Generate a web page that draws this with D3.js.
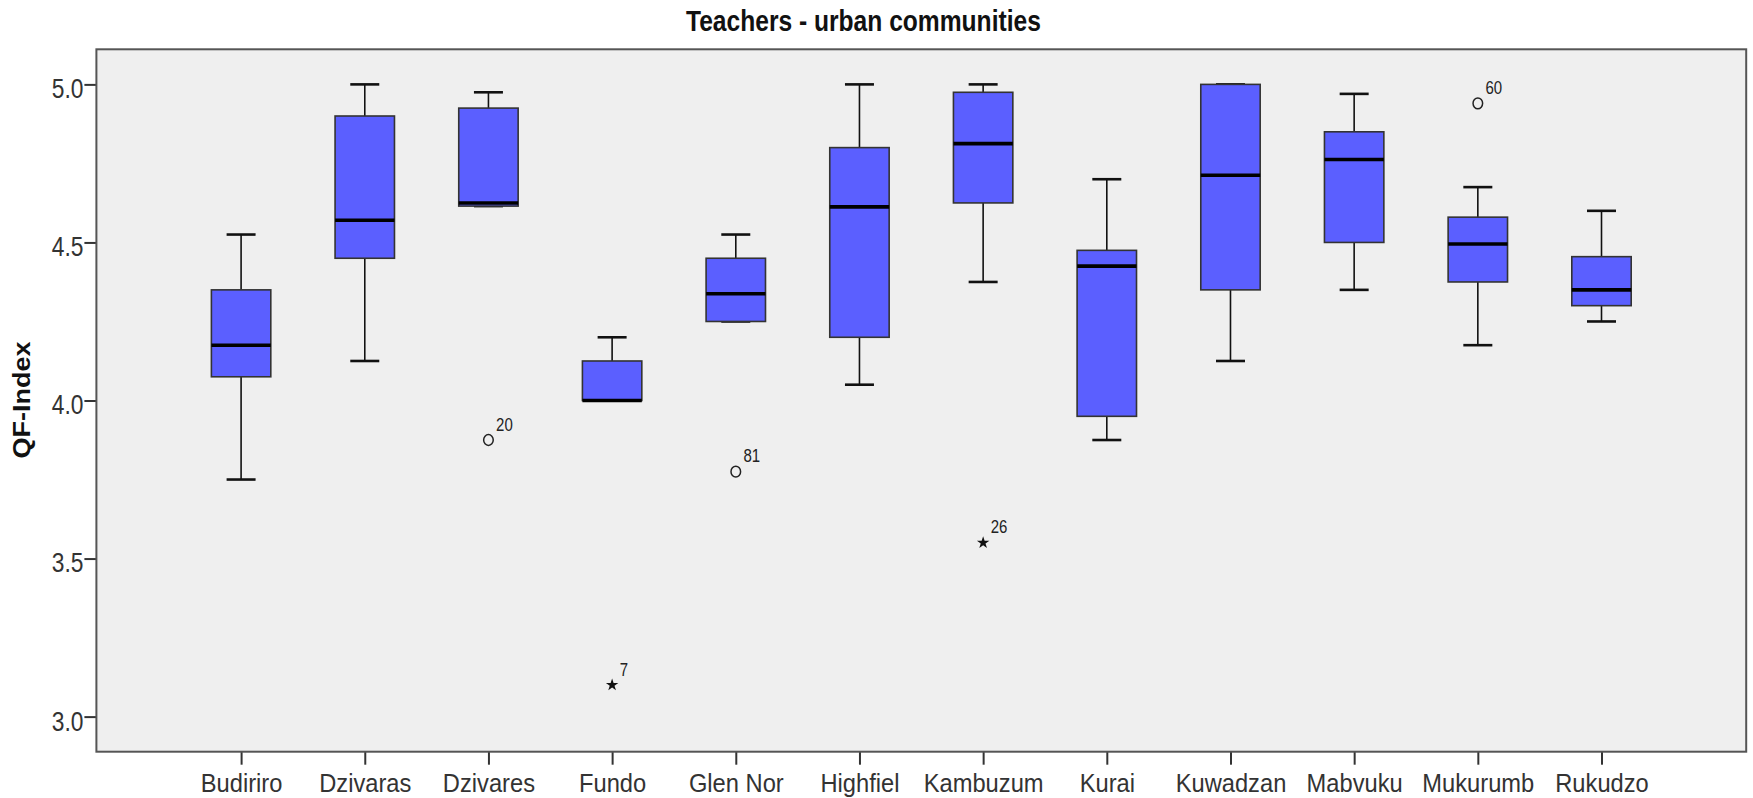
<!DOCTYPE html>
<html>
<head>
<meta charset="utf-8">
<script src="https://cdn.jsdelivr.net/npm/d3@7"></script>
<style>
  html, body { margin: 0; padding: 0; background: #fff; }
  svg { display: block; }
  text { font-family: "Liberation Sans", Arial, sans-serif; }
</style>
</head>
<body>
<svg id="chart" width="1753" height="798"></svg>
<script>
// Five-number summaries per community (QF-Index)
const categories = ["Budiriro", "Dzivaras", "Dzivares", "Fundo", "Glen Nor", "Highfiel",
                    "Kambuzum", "Kurai", "Kuwadzan", "Mabvuku", "Mukurumb", "Rukudzo"];
const lowerWhisker = [3.75, 4.125, 4.615, 4.0, 4.25, 4.05, 4.375, 3.875, 4.125, 4.35, 4.175, 4.25];
const q1           = [4.075, 4.45, 4.615, 4.0, 4.25, 4.2, 4.625, 3.95, 4.35, 4.5, 4.375, 4.3];
const medians      = [4.175, 4.57, 4.625, 4.0, 4.3375, 4.6125, 4.8125, 4.425, 4.7125, 4.7625, 4.495, 4.35];
const q3           = [4.35, 4.9, 4.925, 4.125, 4.45, 4.8, 4.975, 4.475, 5.0, 4.85, 4.58, 4.455];
const upperWhisker = [4.525, 5.0, 4.975, 4.2, 4.525, 5.0, 5.0, 4.7, 5.0, 4.97, 4.675, 4.6];

// Outlying cases: community, value, case number, kind (circle = outlier, star = extreme)
const outlierCategory = ["Dzivares", "Fundo", "Glen Nor", "Kambuzum", "Mukurumb"];
const outlierValue    = [3.875, 3.1, 3.775, 3.55, 4.94];
const outlierCase     = ["20", "7", "81", "26", "60"];
const outlierKind     = ["circle", "star", "circle", "star", "circle"];

const yTicks = [3.0, 3.5, 4.0, 4.5, 5.0];
const chartTitle = "Teachers - urban communities";
const yTitle = "QF-Index";

const frame = { left: 96.4, right: 1746.2, top: 49.3, bottom: 751.7 };

const svg = d3.select("#chart");

const x = d3.scalePoint()
  .domain(categories)
  .range([frame.left, frame.right])
  .padding(1.17);

const y = d3.scaleLinear()
  .domain([2.889, 5.111])
  .range([frame.bottom, frame.top]);

// Plot area
svg.append("rect")
  .attr("x", frame.left).attr("y", frame.top)
  .attr("width", frame.right - frame.left)
  .attr("height", frame.bottom - frame.top)
  .attr("fill", "#efefef");

// Axes
const yAxis = d3.axisLeft(y).tickValues(yTicks).tickSize(12).tickPadding(2)
  .tickFormat(d3.format(".1f"));
const gy = svg.append("g").attr("transform", `translate(${frame.left},0)`).call(yAxis);
gy.select(".domain").remove();
gy.selectAll(".tick line").attr("stroke", "#333").attr("stroke-width", 2);
gy.selectAll(".tick text")
  .attr("fill", "#333")
  .attr("font-size", 22.8)
  .attr("x", null).attr("dy", null)
  .attr("text-anchor", "end")
  .attr("transform", "translate(-13,13.4) scale(1,1.18)");

const xAxis = d3.axisBottom(x).tickSize(13).tickPadding(0);
const gx = svg.append("g").attr("transform", `translate(0,${frame.bottom})`).call(xAxis);
gx.select(".domain").remove();
gx.selectAll(".tick line").attr("stroke", "#333").attr("stroke-width", 2);
gx.selectAll(".tick text")
  .attr("fill", "#333")
  .attr("font-size", 23.7)
  .attr("y", null).attr("dy", null)
  .attr("transform", "translate(0,40) scale(1,1.12)");

// Frame border
svg.append("rect")
  .attr("x", frame.left).attr("y", frame.top)
  .attr("width", frame.right - frame.left)
  .attr("height", frame.bottom - frame.top)
  .attr("fill", "none")
  .attr("stroke", "#555")
  .attr("stroke-width", 2);

// Boxes
const boxW = 59.4, capW = 29;
const rows = categories.map((c, i) => ({
  c, lo: lowerWhisker[i], q1: q1[i], med: medians[i], q3: q3[i], hi: upperWhisker[i]
}));

const g = svg.append("g");
const box = g.selectAll("g.box").data(rows).join("g").attr("class", "box");

// whisker stems
box.append("line")
  .attr("x1", d => x(d.c)).attr("x2", d => x(d.c))
  .attr("y1", d => y(d.hi)).attr("y2", d => y(d.q3))
  .attr("stroke", "#111").attr("stroke-width", 1.6);
box.append("line")
  .attr("x1", d => x(d.c)).attr("x2", d => x(d.c))
  .attr("y1", d => y(d.q1)).attr("y2", d => y(d.lo))
  .attr("stroke", "#111").attr("stroke-width", 1.6);
// whisker caps
box.append("line")
  .attr("x1", d => x(d.c) - capW / 2).attr("x2", d => x(d.c) + capW / 2)
  .attr("y1", d => y(d.hi)).attr("y2", d => y(d.hi))
  .attr("stroke", "#111").attr("stroke-width", 2.6);
box.append("line")
  .attr("x1", d => x(d.c) - capW / 2).attr("x2", d => x(d.c) + capW / 2)
  .attr("y1", d => y(d.lo)).attr("y2", d => y(d.lo))
  .attr("stroke", "#111").attr("stroke-width", 2.6);
// interquartile box
box.append("rect")
  .attr("x", d => x(d.c) - boxW / 2)
  .attr("y", d => y(d.q3))
  .attr("width", boxW)
  .attr("height", d => Math.max(0.5, y(d.q1) - y(d.q3)))
  .attr("fill", "#5b5fff")
  .attr("stroke", "#333")
  .attr("stroke-width", 1.6);
// median
box.append("line")
  .attr("x1", d => x(d.c) - boxW / 2).attr("x2", d => x(d.c) + boxW / 2)
  .attr("y1", d => y(d.med)).attr("y2", d => y(d.med))
  .attr("stroke", "#000").attr("stroke-width", 3.6);

// Outliers
const outliers = outlierCategory.map((c, i) => ({
  c, v: outlierValue[i], id: outlierCase[i], kind: outlierKind[i]
}));
const og = g.selectAll("g.outlier").data(outliers).join("g")
  .attr("class", "outlier")
  .attr("transform", d => `translate(${x(d.c)},${y(d.v)})`);

og.filter(d => d.kind === "circle").append("ellipse")
  .attr("rx", 4.8).attr("ry", 5.4)
  .attr("fill", "none").attr("stroke", "#222").attr("stroke-width", 1.5);
og.filter(d => d.kind === "star").append("path")
  .attr("d", d3.symbol(d3.symbolStar, 48))
  .attr("fill", "#111");
og.append("text")
  .attr("font-size", 15)
  .attr("fill", "#222")
  .attr("transform", "translate(7.6,-9.5) scale(1,1.24)")
  .text(d => d.id);

// Titles
svg.append("text")
  .attr("transform", "translate(863.4,30.5) scale(1,1.17)")
  .attr("text-anchor", "middle")
  .attr("font-size", 24.6)
  .attr("font-weight", "bold")
  .attr("fill", "#111")
  .text(chartTitle);

svg.append("text")
  .attr("transform", "translate(29.5,400) rotate(-90) scale(1.15,1)")
  .attr("text-anchor", "middle")
  .attr("font-size", 23.5)
  .attr("font-weight", "bold")
  .attr("fill", "#111")
  .text(yTitle);
</script>
</body>
</html>
